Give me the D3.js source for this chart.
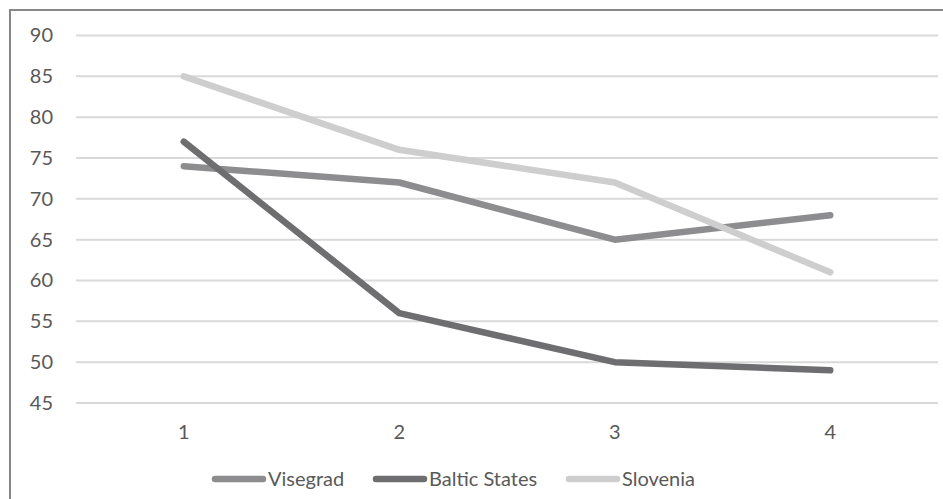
<!DOCTYPE html>
<html>
<head>
<meta charset="utf-8">
<script src="https://cdn.jsdelivr.net/npm/d3@7"></script>
<style>
  html, body { margin: 0; padding: 0; background: #fff; }
  svg { display: block; }
</style>
</head>
<body>
<svg id="chart" width="943" height="499"></svg>
<script>
// Survey periods and score per region group
const categories = [1, 2, 3, 4];
const visegrad = [74, 72, 65, 68];
const balticStates = [77, 56, 50, 49];
const slovenia = [85, 76, 72, 61];
const yTicks = [45, 50, 55, 60, 65, 70, 75, 80, 85, 90];

const seriesList = [
  { name: "Visegrad", values: visegrad, color: "#8d8d8f" },
  { name: "Baltic States", values: balticStates, color: "#6e6e71" },
  { name: "Slovenia", values: slovenia, color: "#cecece" }
];

const W = 943, H = 499;
const svg = d3.select("#chart");
const font = "Lato, 'Open Sans', sans-serif";
const textColor = "#595959";

// Outer frame (left and top edges visible)
svg.append("rect")
  .attr("x", 10).attr("y", 10)
  .attr("width", W + 20).attr("height", H + 20)
  .attr("fill", "none").attr("stroke", "#878787").attr("stroke-width", 2);

const plot = { left: 76, right: 938, top: 35.5, bottom: 403 };

const x = d3.scaleBand()
  .domain(categories)
  .range([plot.left, plot.right]);

const y = d3.scaleLinear()
  .domain([45, 90])
  .range([plot.bottom, plot.top]);

// Horizontal gridlines
svg.append("g")
  .selectAll("line")
  .data(yTicks)
  .join("line")
  .attr("x1", plot.left).attr("x2", plot.right)
  .attr("y1", d => y(d)).attr("y2", d => y(d))
  .attr("stroke", "#d9d9d9").attr("stroke-width", 2);

// Y axis labels
const yAxis = d3.axisLeft(y).tickValues(yTicks).tickSize(0).tickPadding(0);
svg.append("g")
  .attr("transform", `translate(53,0)`)
  .call(yAxis)
  .call(g => g.select(".domain").remove())
  .call(g => g.selectAll("text")
    .attr("fill", textColor)
    .style("font-family", font)
    .style("font-size", "20px"));

// X axis labels
const xAxis = d3.axisBottom(x).tickSize(0).tickPadding(0);
svg.append("g")
  .attr("transform", `translate(0,${plot.bottom + 22})`)
  .call(xAxis)
  .call(g => g.select(".domain").remove())
  .call(g => g.selectAll("text")
    .attr("fill", textColor)
    .style("font-family", font)
    .style("font-size", "20px"));

// Series lines
const line = d3.line()
  .x((d, i) => x(categories[i]) + x.bandwidth() / 2)
  .y(d => y(d));

svg.append("g")
  .selectAll("path")
  .data(seriesList)
  .join("path")
  .attr("d", s => line(s.values))
  .attr("fill", "none")
  .attr("stroke", s => s.color)
  .attr("stroke-width", 6.5)
  .attr("stroke-linecap", "round")
  .attr("stroke-linejoin", "round");

// Legend
const legendY = 479;
const legendStarts = [215, 376, 569];
const legend = svg.append("g");
seriesList.forEach((s, i) => {
  const gx = legendStarts[i];
  legend.append("line")
    .attr("x1", gx).attr("x2", gx + 48)
    .attr("y1", legendY).attr("y2", legendY)
    .attr("stroke", s.color).attr("stroke-width", 6.5)
    .attr("stroke-linecap", "round");
  legend.append("text")
    .attr("x", gx + 53).attr("y", legendY)
    .attr("dy", "0.35em")
    .attr("fill", textColor)
    .style("font-family", font)
    .style("font-size", "20px")
    .text(s.name);
});
</script>
</body>
</html>
